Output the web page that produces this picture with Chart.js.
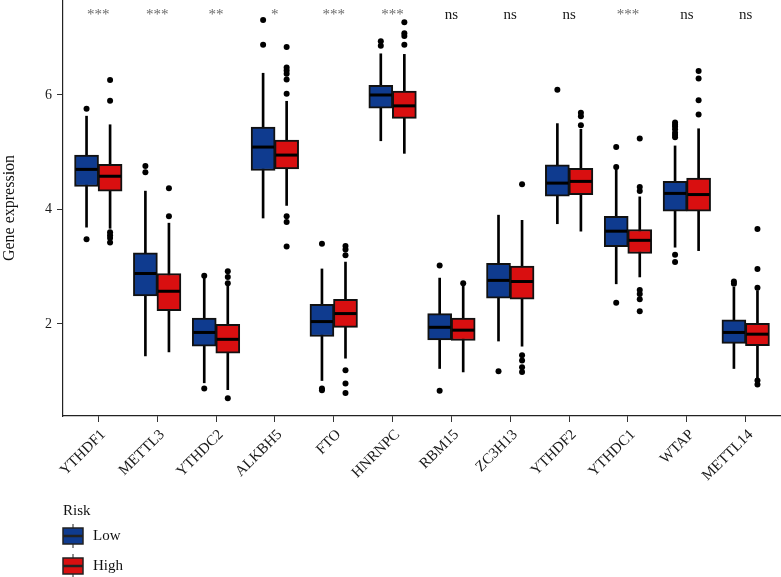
<!DOCTYPE html>
<html>
<head>
<meta charset="utf-8">
<script src="https://cdn.jsdelivr.net/npm/chart.js@4/dist/chart.umd.min.js"></script>
<style>
  html, body { margin: 0; padding: 0; background: #fff; }
  #wrap { width: 781px; height: 577px; position: relative; }
</style>
</head>
<body>
<div id="wrap"><canvas id="box-chart"></canvas></div>
<script>
// genes on the x axis and significance marks above each pair
var genes = ['YTHDF1', 'METTL3', 'YTHDC2', 'ALKBH5', 'FTO', 'HNRNPC', 'RBM15', 'ZC3H13', 'YTHDF2', 'YTHDC1', 'WTAP', 'METTL14'];
var signif = ['***', '***', '**', '*', '***', '***', 'ns', 'ns', 'ns', '***', 'ns', 'ns'];
var yTicks = [2, 4, 6];

// Low risk group
var lowQ1  = [4.40, 2.49, 1.61, 4.68, 1.78, 5.77, 1.72, 2.45, 4.23, 3.35, 3.97, 1.66];
var lowMed = [4.70, 2.88, 1.85, 5.09, 2.04, 6.00, 1.94, 2.76, 4.46, 3.62, 4.28, 1.85];
var lowQ3  = [4.95, 3.24, 2.10, 5.44, 2.34, 6.17, 2.18, 3.06, 4.78, 3.88, 4.49, 2.07];
var lowMin = [3.69, 1.44, 0.97, 3.85, 1.01, 5.20, 1.22, 1.70, 3.75, 2.70, 3.34, 1.22];
var lowMax = [5.63, 4.32, 2.80, 6.38, 2.96, 6.72, 2.80, 3.90, 5.50, 4.70, 5.11, 2.64];
var lowOut = [
  [5.76, 3.48],
  [4.76, 4.65],
  [2.84, 0.87],
  [7.31, 6.88],
  [3.40, 0.87, 0.84],
  [6.94, 6.86],
  [3.02, 0.83],
  [1.17],
  [6.09],
  [5.09, 4.74, 2.37],
  [5.52, 5.48, 5.45, 5.40, 5.34, 5.30, 5.26, 3.21, 3.08],
  [2.74, 2.70]
];

// High risk group
var highQ1  = [4.32, 2.23, 1.49, 4.71, 1.94, 5.59, 1.71, 2.43, 4.26, 3.23, 3.97, 1.62];
var highMed = [4.58, 2.57, 1.73, 4.95, 2.18, 5.81, 1.89, 2.74, 4.49, 3.46, 4.26, 1.82];
var highQ3  = [4.79, 2.88, 1.99, 5.21, 2.43, 6.07, 2.10, 3.01, 4.72, 3.65, 4.55, 2.01];
var highMin = [3.67, 1.51, 0.85, 4.07, 1.40, 4.98, 1.16, 1.61, 3.62, 2.82, 3.28, 1.02];
var highMax = [5.48, 3.76, 2.67, 5.89, 3.08, 6.71, 2.68, 3.81, 5.40, 4.22, 5.41, 2.58];
var highOut = [
  [6.26, 5.90, 3.60, 3.55, 3.50, 3.42],
  [4.37, 3.88],
  [2.92, 2.82, 2.71, 0.70],
  [6.84, 6.48, 6.43, 6.37, 6.27, 6.02, 3.88, 3.78, 3.35],
  [3.36, 3.30, 3.20, 1.19, 0.96, 0.79],
  [7.27, 7.08, 7.03, 6.88],
  [2.71],
  [4.44, 1.45, 1.36, 1.24, 1.16],
  [5.69, 5.63, 5.47],
  [5.24, 4.39, 4.32, 2.59, 2.52, 2.43, 2.22],
  [6.42, 6.29, 5.91, 5.66],
  [3.66, 2.96, 2.63, 1.01, 0.94]
];

var BLUE = '#0f3b8f';
var RED = '#d90f10';
var SERIF = '"Liberation Serif", "DejaVu Serif", serif';
var shift = 0.2;

function pairs(a, b, dx) {
  return a.map(function (v, i) { return { x: i + dx, y: [v, b[i]] }; });
}
function points(arr, dx) {
  return arr.map(function (v, i) { return { x: i + dx, y: v }; });
}
function outPoints(arr, dx) {
  var res = [];
  arr.forEach(function (list, i) {
    list.forEach(function (v) { res.push({ x: i + dx, y: v }); });
  });
  return res;
}

var datasets = [
  // whiskers
  { type: 'bar', data: pairs(lowMin, lowMax, -shift), backgroundColor: '#000', barThickness: 2, grouped: false, order: 5 },
  { type: 'bar', data: pairs(highMin, highMax, shift), backgroundColor: '#000', barThickness: 2, grouped: false, order: 5 },
  // boxes
  { type: 'bar', label: 'Low', data: pairs(lowQ1, lowQ3, -shift), backgroundColor: BLUE, borderColor: '#111', borderWidth: 2,
    borderSkipped: false, barThickness: 24, grouped: false, order: 4 },
  { type: 'bar', label: 'High', data: pairs(highQ1, highQ3, shift), backgroundColor: RED, borderColor: '#111', borderWidth: 2,
    borderSkipped: false, barThickness: 24, grouped: false, order: 4 },
  // medians
  { type: 'scatter', data: points(lowMed, -shift), pointStyle: 'line', pointRadius: 11, borderColor: '#000', pointBorderWidth: 3, order: 3 },
  { type: 'scatter', data: points(highMed, shift), pointStyle: 'line', pointRadius: 11, borderColor: '#000', pointBorderWidth: 3, order: 3 },
  // outliers
  { type: 'scatter', data: outPoints(lowOut, -shift), pointRadius: 3, backgroundColor: '#000', borderColor: '#000', borderWidth: 0, order: 1 },
  { type: 'scatter', data: outPoints(highOut, shift), pointRadius: 3, backgroundColor: '#000', borderColor: '#000', borderWidth: 0, order: 1 }
];

// significance marks and the Risk legend
var extras = {
  id: 'extras',
  afterDraw: function (chart) {
    var ctx = chart.ctx;
    var x = chart.scales.x;
    var top = chart.chartArea.top;
    ctx.save();
    ctx.font = '15px ' + SERIF;
    ctx.textAlign = 'center';
    ctx.textBaseline = 'alphabetic';
    signif.forEach(function (s, i) {
      ctx.fillStyle = s === 'ns' ? '#1a1a1a' : '#6a6a6a';
      ctx.fillText(s, x.getPixelForValue(i), top + 19);
    });

    ctx.textAlign = 'left';
    ctx.fillStyle = '#111';
    ctx.fillText('Risk', 63, 515);
    var keys = [['Low', BLUE, 536], ['High', RED, 566]];
    keys.forEach(function (k) {
      var yc = k[2];
      ctx.strokeStyle = '#222';
      ctx.lineWidth = 1;
      ctx.beginPath();
      ctx.moveTo(73, yc - 12);
      ctx.lineTo(73, yc + 12);
      ctx.stroke();
      ctx.fillStyle = k[1];
      ctx.fillRect(63, yc - 8, 20, 16);
      ctx.lineWidth = 1.5;
      ctx.strokeRect(63, yc - 8, 20, 16);
      ctx.lineWidth = 2.5;
      ctx.beginPath();
      ctx.moveTo(63, yc);
      ctx.lineTo(83, yc);
      ctx.stroke();
      ctx.fillStyle = '#111';
      ctx.textBaseline = 'middle';
      ctx.fillText(k[0], 93, yc);
    });
    ctx.restore();
  }
};

new Chart(document.getElementById('box-chart'), {
  type: 'bar',
  data: { datasets: datasets },
  options: {
    responsive: true,
    maintainAspectRatio: false,
    animation: false,
    layout: { padding: 0, autoPadding: false },
    plugins: { legend: { display: false }, tooltip: { enabled: false } },
    scales: {
      x: {
        type: 'linear',
        min: -0.6,
        max: 11.6,
        offset: false,
        afterBuildTicks: function (scale) {
          scale.ticks = genes.map(function (g, i) { return { value: i }; });
        },
        afterFit: function (scale) {
          scale.height = 161;
          scale.paddingLeft = 0;
          scale.paddingRight = 0;
        },
        grid: { offset: false, drawOnChartArea: false, drawTicks: true, tickLength: 6, tickColor: '#333', tickWidth: 1 },
        border: { display: true, color: '#222', width: 1.2 },
        ticks: {
          autoSkip: false,
          minRotation: 45,
          maxRotation: 45,
          padding: 4,
          labelOffset: 5,
          color: '#1a1a1a',
          font: { family: SERIF, size: 15 },
          callback: function (v) { return genes[v]; }
        }
      },
      y: {
        type: 'linear',
        min: 0.39,
        max: 7.66,
        afterBuildTicks: function (scale) {
          scale.ticks = yTicks.map(function (v) { return { value: v }; });
        },
        afterFit: function (scale) {
          scale.width = 63;
          scale.paddingTop = 0;
          scale.paddingBottom = 0;
        },
        grid: { drawOnChartArea: false, drawTicks: true, tickLength: 6, tickColor: '#333', tickWidth: 1 },
        border: { display: true, color: '#222', width: 1.2 },
        ticks: { padding: 5, color: '#1a1a1a', font: { family: SERIF, size: 14 } },
        title: { display: true, text: 'Gene expression', color: '#111', font: { family: SERIF, size: 16 }, padding: { top: 0, bottom: 2 } }
      }
    }
  },
  plugins: [extras]
});
</script>
</body>
</html>
